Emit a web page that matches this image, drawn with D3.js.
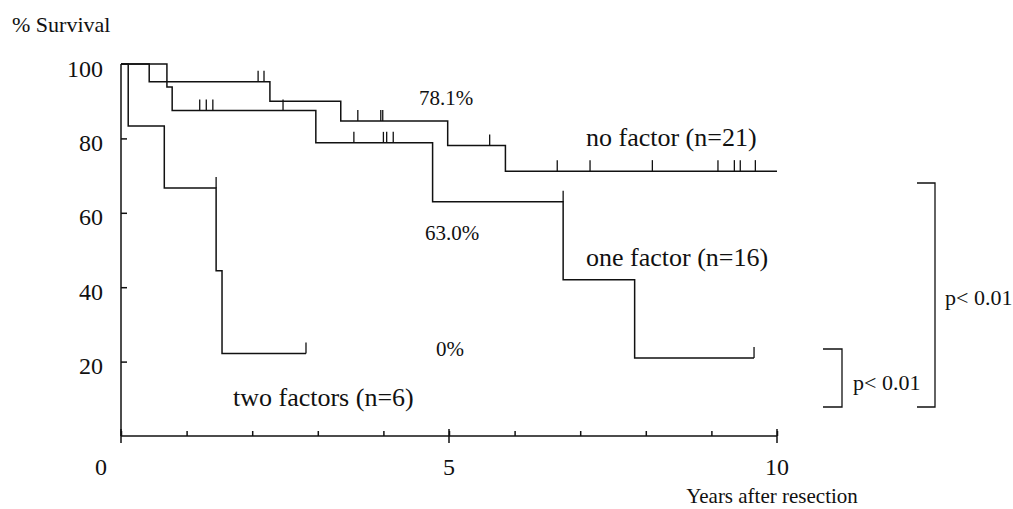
<!DOCTYPE html>
<html>
<head>
<meta charset="utf-8">
<script src="https://cdn.jsdelivr.net/npm/d3@7"></script>
<style>
  body { margin: 0; background: #fff; }
  svg text { font-family: "Liberation Serif", "Times New Roman", serif; fill: #111; }
  .curve { fill: none; stroke: #111; stroke-width: 1.5; }
  .censor { stroke: #111; stroke-width: 1.3; }
  .axis path, .axis line { stroke: #111; stroke-width: 1.5; }
  .bracket { fill: none; stroke: #111; stroke-width: 1.3; }
</style>
</head>
<body>
<svg id="km" width="1013" height="509"></svg>
<script>
// survival steps: time (years) and % surviving after each drop
const noFactorTimes = [0, 0.43, 2.27, 3.35, 4.98, 5.86];
const noFactorSurv = [100, 95.2, 90.0, 84.7, 78.1, 71.2];
const noFactorEnd = 10;
const noFactorCensor = [2.09, 2.18, 3.61, 3.96, 3.99, 5.62, 6.65, 7.15, 8.1, 9.1, 9.35, 9.44, 9.67];

const oneFactorTimes = [0, 0.7, 0.78, 2.97, 4.75, 6.74, 7.83];
const oneFactorSurv = [100, 93.8, 87.5, 78.8, 63.0, 42.0, 21.0];
const oneFactorEnd = 9.65;
const oneFactorCensor = [1.2, 1.3, 1.4, 2.47, 3.55, 4.0, 4.05, 4.15, 6.74, 9.65];

const twoFactorTimes = [0, 0.11, 0.66, 1.45, 1.54];
const twoFactorSurv = [100, 83.3, 66.7, 44.4, 22.2];
const twoFactorEnd = 2.82;
const twoFactorCensor = [1.45, 2.82];

const xTicks = [0, 5, 10];
const yTicks = [20, 40, 60, 80, 100];

const groups = [
  { times: noFactorTimes, surv: noFactorSurv, end: noFactorEnd, censor: noFactorCensor },
  { times: oneFactorTimes, surv: oneFactorSurv, end: oneFactorEnd, censor: oneFactorCensor },
  { times: twoFactorTimes, surv: twoFactorSurv, end: twoFactorEnd, censor: twoFactorCensor }
];

const serif = '"Liberation Serif", "Times New Roman", serif';

const svg = d3.select('#km');

const x = d3.scaleLinear().domain([0, 10]).range([121, 777]);
const y = d3.scaleLinear().domain([0, 100]).range([436, 64]);

// axes
const minorAxis = d3.axisBottom(x)
                    .tickValues(d3.range(0, 11))
                    .tickSize(-5)
                    .tickFormat('');
svg.append('g')
   .attr('class', 'axis')
   .attr('transform', 'translate(0,' + y(0) + ')')
   .call(minorAxis)
   .call(g => g.select('.domain').attr('d', 'M' + x(0) + ',0H' + x(10)));

// major ticks cross the axis
svg.append('g')
   .selectAll('line')
   .data(xTicks)
   .enter()
   .append('line')
   .attr('x1', d => x(d)).attr('x2', d => x(d))
   .attr('y1', y(0) - 7).attr('y2', y(0) + 7)
   .attr('stroke', '#111').attr('stroke-width', 1.5);

svg.append('g')
   .selectAll('text')
   .data(xTicks)
   .enter()
   .append('text')
   .attr('x', d => d === 0 ? x(d) - 20 : x(d))
   .attr('y', y(0) + 39)
   .attr('text-anchor', 'middle')
   .attr('font-family', serif)
   .style('font-size', '24px')
   .text(d => d);

const yAxis = d3.axisLeft(y)
                .tickValues(yTicks)
                .tickSize(-6)
                .tickPadding(18);
svg.append('g')
   .attr('class', 'axis')
   .attr('font-family', serif)
   .attr('transform', 'translate(' + x(0) + ',0)')
   .call(yAxis)
   .call(g => g.select('.domain').attr('d', 'M0,' + y(0) + 'V' + y(100)))
   .call(g => g.selectAll('.tick text').style('font-size', '24px').attr('dy', '0.5em').style('fill', '#111'))
   .call(g => g.selectAll('.tick').filter(d => d === 100).select('line').remove());

// curves
const line = d3.line()
               .x(d => x(d[0]))
               .y(d => y(d[1]))
               .curve(d3.curveStepAfter);

function levelAt(g, t) {
  let s = g.surv[0];
  g.times.forEach((tt, i) => { if (tt < t) s = g.surv[i]; });
  return s;
}

groups.forEach(g => {
  const pts = g.times.map((t, i) => [t, g.surv[i]]);
  pts.push([g.end, g.surv[g.surv.length - 1]]);
  svg.append('path')
     .attr('class', 'curve')
     .attr('d', line(pts));

  svg.append('g')
     .selectAll('line')
     .data(g.censor)
     .enter()
     .append('line')
     .attr('class', 'censor')
     .attr('x1', d => x(d)).attr('x2', d => x(d))
     .attr('y1', d => y(levelAt(g, d)))
     .attr('y2', d => y(levelAt(g, d)) - 11);
});

// labels
function label(xp, yp, size, txt, anchor) {
  svg.append('text')
     .attr('x', xp).attr('y', yp)
     .attr('text-anchor', anchor || 'start')
     .attr('font-family', serif)
     .style('font-size', size + 'px')
     .text(txt);
}

label(12, 32, 22, '% Survival');
label(772, 503, 21, 'Years after resection', 'middle');

label(446, 105, 21, '78.1%', 'middle');
label(452, 240, 21, '63.0%', 'middle');
label(450, 356, 21, '0%', 'middle');

label(586, 146, 26, 'no factor (n=21)');
label(586, 266, 26, 'one factor (n=16)');
label(233, 406, 26, 'two factors (n=6)');

// significance brackets
svg.append('path').attr('class', 'bracket').attr('d', 'M917,183H935V407H917');
svg.append('path').attr('class', 'bracket').attr('d', 'M823,349H842V407H823');
label(945, 305, 22, 'p< 0.01');
label(853, 390, 22, 'p< 0.01');
</script>
</body>
</html>
